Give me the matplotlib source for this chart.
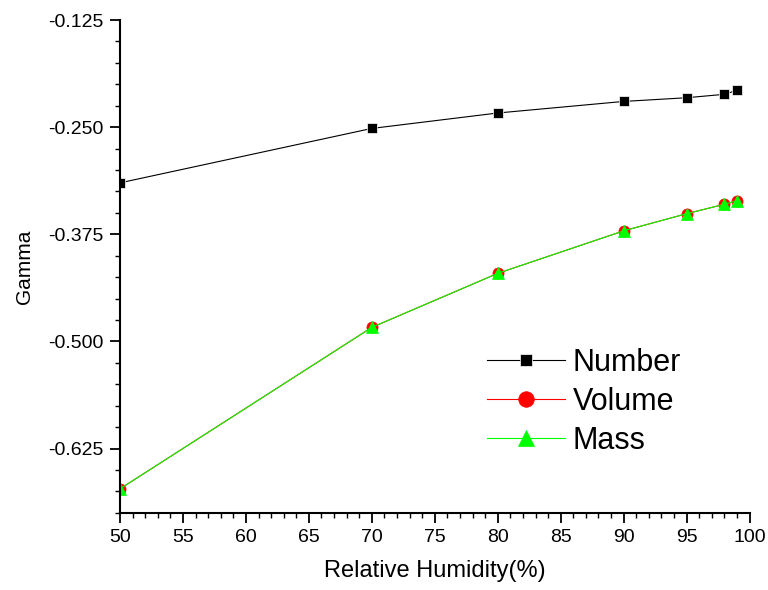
import numpy as np
import matplotlib.pyplot as plt
from matplotlib.ticker import MultipleLocator, FormatStrFormatter

plt.rcParams['font.family'] = ['Liberation Sans', 'DejaVu Sans']

# data
rh = [50, 70, 80, 90, 95, 98, 99]
gamma_number = [-0.315, -0.2515, -0.2335, -0.220, -0.2157, -0.2117, -0.207]
gamma_volume = [-0.672, -0.4836, -0.4206, -0.371, -0.351, -0.340, -0.336]
gamma_mass = [-0.672, -0.4836, -0.4206, -0.371, -0.351, -0.340, -0.336]

fig = plt.figure(figsize=(7.68, 5.9), dpi=100)
ax = fig.add_axes([0.1563, 0.1308, 0.8197, 0.8353])

ax.plot(rh, gamma_number, color='black', lw=0.8, marker='s', ms=6.5,
        mfc='black', mec='white', mew=0.5, label='Number')
ax.plot(rh, gamma_volume, color='red', lw=0.8, marker='o', ms=8,
        mfc='red', mec='red', mew=0.5, label='Volume')
ax.plot(rh, gamma_mass, color='#00ff00', lw=0.8, marker='^', ms=8.6,
        mfc='#00ff00', mec='#00ff00', mew=0.5, label='Mass')

ax.set_xlim(50, 100)
ax.set_ylim(-0.70, -0.125)
ax.xaxis.set_major_locator(MultipleLocator(5))
ax.xaxis.set_minor_locator(MultipleLocator(1))
ax.yaxis.set_major_locator(MultipleLocator(0.125))
ax.yaxis.set_minor_locator(MultipleLocator(0.025))
ax.yaxis.set_major_formatter(FormatStrFormatter('%.3f'))

for s in ['top', 'right']:
    ax.spines[s].set_visible(False)
for s in ['left', 'bottom']:
    ax.spines[s].set_linewidth(1.5)
ax.tick_params(which='major', direction='out', length=7, width=1.3,
               labelsize=14, pad=5)
ax.tick_params(which='minor', direction='out', length=3.6, width=1.0)

ax.set_xlabel('Relative Humidity(%)', fontsize=17, labelpad=10)
ax.set_ylabel('Gamma', fontsize=15, labelpad=10)

ax.legend(loc='upper left', bbox_to_anchor=(0.583, 0.335), frameon=False,
          fontsize=22, handlelength=2.55, handletextpad=0.26, labelspacing=0.3,
          borderaxespad=0, borderpad=0, markerscale=1.4)

fig.savefig('out.png', dpi=100)
